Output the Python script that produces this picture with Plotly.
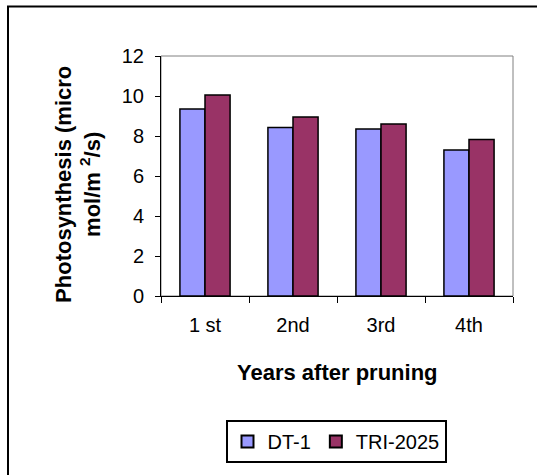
import plotly.graph_objects as go

categories = ["1 st", "2nd", "3rd", "4th"]
dt1 = [9.35, 8.42, 8.35, 7.3]
tri2025 = [10.05, 8.95, 8.6, 7.82]
series_names = ["DT-1", "TRI-2025"]
y_ticks = [0, 2, 4, 6, 8, 10, 12]

FONT = "Liberation Sans, Arial, sans-serif"

fig = go.Figure()
fig.add_trace(go.Bar(x=categories, y=dt1, name=series_names[0],
                     marker=dict(color="#9999FF", line=dict(color="black", width=1.5))))
fig.add_trace(go.Bar(x=categories, y=tri2025, name=series_names[1],
                     marker=dict(color="#993366", line=dict(color="black", width=1.5))))

W, H = 537, 475
L, R, T, B = 161, 24, 56, 177
pw, ph = W - L - R, H - T - B

def px_x(px):
    return (px - L) / pw

def px_y(py):
    return (H - B - py) / ph

fig.update_layout(
    width=W, height=H,
    margin=dict(l=L, r=R, t=T, b=B, pad=0),
    paper_bgcolor="white", plot_bgcolor="white",
    font=dict(family=FONT, size=20, color="black"),
    barmode="group", bargap=0.43, bargroupgap=0,
    showlegend=True,
    legend=dict(orientation="h", x=px_x(336), xanchor="center",
                y=px_y(423), yanchor="top",
                bordercolor="black", borderwidth=2,
                font=dict(family=FONT, size=20, color="black"),
                itemsizing="constant", tracegroupgap=0),
    xaxis=dict(type="category", tickson="boundaries", ticks="outside",
               ticklen=6, tickcolor="black", showline=True, linecolor="black",
               linewidth=1, showgrid=False, zeroline=False,
               ticklabelstandoff=11, tickfont=dict(size=20)),
    yaxis=dict(range=[0, 12], tickvals=y_ticks, ticks="outside", ticklen=5,
               tickcolor="black", showline=True, linecolor="black", linewidth=1,
               showgrid=False, zeroline=False, ticklabelstandoff=7,
               tickfont=dict(size=20)),
    shapes=[
        dict(type="rect", xref="paper", yref="paper", x0=0, x1=1, y0=0, y1=1,
             line=dict(color="#808080", width=1), layer="below"),
        dict(type="path", xref="paper", yref="paper",
             path=f"M {px_x(8)},{px_y(600)} L {px_x(8)},{px_y(6)} L {px_x(600)},{px_y(6)}",
             line=dict(color="black", width=2)),
    ],
    annotations=[
        dict(text="Photosynthesis (micro<br>mol/m <sup>2</sup>/s)", textangle=-90,
             xref="paper", yref="paper", x=px_x(78), y=px_y(186),
             xanchor="center", yanchor="middle", showarrow=False,
             font=dict(family=FONT, size=22, color="black", weight="bold")),
        dict(text="Years after pruning", xref="paper", yref="paper",
             x=px_x(337), y=px_y(375), xanchor="center", yanchor="middle",
             showarrow=False,
             font=dict(family=FONT, size=22, color="black", weight="bold")),
    ],
)

fig.write_html("out.html")
